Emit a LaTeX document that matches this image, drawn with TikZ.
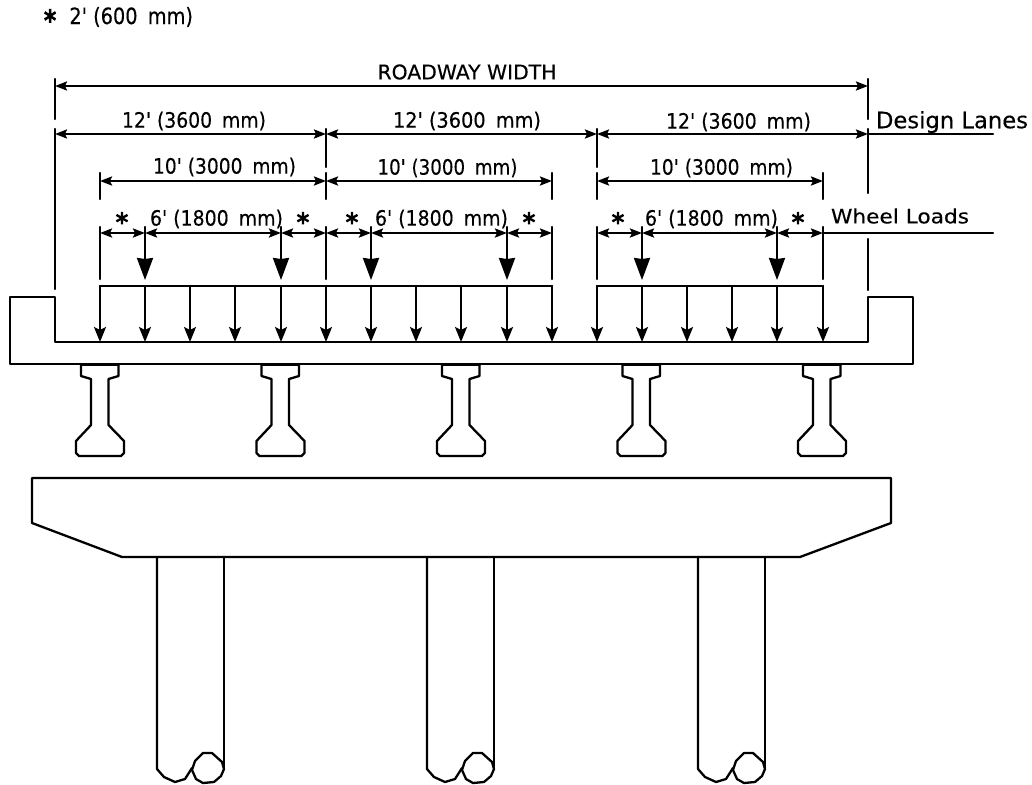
\documentclass[tikz,border=0pt]{standalone}
\usepackage{fontspec}
\usetikzlibrary{arrows.meta}
\newfontfamily\cadfont[FakeBold=0.3]{DejaVu Sans}
\newfontfamily\starfont[FakeBold=4]{DejaVu Sans}
\newcommand{\fitw}[2]{\resizebox{#1pt}{!}{\cadfont\fontsize{19}{21}\selectfont #2}}
\newcommand{\fith}[2]{\resizebox{#1pt}{16pt}{\cadfont\fontsize{19}{21}\selectfont #2}}
\newcommand{\cadstar}{{\starfont\fontsize{25}{25}\selectfont\raisebox{-13pt}[6pt][6pt]{*}}}
\tikzset{
  ln/.style={line width=2.3pt,line cap=round,line join=round,black},
  dimln/.style={ln,{Stealth[length=12pt,width=9pt,inset=2pt]}-{Stealth[length=12pt,width=9pt,inset=2pt]}},
  loadarrow/.style={ln,-{Stealth[length=15pt,width=12pt,inset=3pt]}},
  wheelarrow/.style={ln,-{Stealth[length=22pt,width=16pt,inset=1pt]}},
  lab/.style={inner sep=0pt,outer sep=0pt,anchor=center,black},
  starlab/.style={inner sep=0pt,outer sep=0pt,anchor=center,black},
}
\begin{document}
\begin{tikzpicture}[x=1pt,y=-1pt]
\useasboundingbox (0,0) rectangle (1032,784);
% note at top
\node[lab] (note) at (118.5,17) {\resizebox{149pt}{17pt}{\cadfont\fontsize{19}{21}\selectfont{\starfont\fontsize{24}{24}\selectfont\raisebox{-5.5pt}[8pt][0pt]{*}}\hspace{13pt}2' (600\hspace{4pt} mm)}};
% roadway width
\draw[ln] (55,79) -- (55,119);
\draw[ln] (868,79) -- (868,119);
\draw[dimln] (55,86) -- (868,86);
\node[lab] (rw) at (467,72) {\resizebox{179pt}{15pt}{\cadfont\fontsize{19}{21}\selectfont ROADWAY WIDTH}};
% design lanes
\draw[ln] (55,129) -- (55,289);
\draw[ln] (326,129) -- (326,167);
\draw[ln] (597,129) -- (597,167);
\draw[ln] (868,129) -- (868,193);
\draw[ln] (868,239) -- (868,290);
\draw[dimln] (55,134) -- (326,134);
\draw[dimln] (326,134) -- (597,134);
\draw[dimln] (597,134) -- (868,134);
\draw[ln] (868,134) -- (993,134);
\node[lab] (l1) at (194,121) {\fith{144}{12' (3600\hspace{4pt} mm)}};
\node[lab] (l2) at (467,121) {\fith{148}{12' (3600\hspace{4pt} mm)}};
\node[lab] (l3) at (738.5,122) {\fith{145}{12' (3600\hspace{4pt} mm)}};
\node[lab] (dl) at (952,122) {\fitw{152}{Design Lanes}};
% 10 ft
\foreach \x in {100,326,552,597,823} \draw[ln] (\x,173) -- (\x,199);
\draw[dimln] (100,181) -- (326,181);
\draw[dimln] (326,181) -- (552,181);
\draw[dimln] (597,181) -- (823,181);
\node[lab] (t1) at (224.5,167) {\fith{143}{10' (3000\hspace{4pt} mm)}};
\node[lab] (t2) at (447.5,168) {\fith{140}{10' (3000\hspace{4pt} mm)}};
\node[lab] (t3) at (721.5,168) {\fith{143}{10' (3000\hspace{4pt} mm)}};
% wheel loads
\foreach \x in {100,326,552,597,823} \draw[ln] (\x,227) -- (\x,279);
\foreach \a/\b/\c/\d in {100/145/281/326,326/371/507/552,597/642/777/823}{
  \draw[dimln] (\a,233) -- (\b,233);
  \draw[dimln] (\b,233) -- (\c,233);
  \draw[dimln] (\c,233) -- (\d,233);
  \draw[ln] (\b,227) -- (\b,240);
  \draw[ln] (\c,227) -- (\c,240);
  \draw[wheelarrow] (\b,233) -- (\b,280);
  \draw[wheelarrow] (\c,233) -- (\c,280);
}
\draw[ln] (823,233) -- (993,233);
\node[lab] (w1) at (216.5,219) {\fith{133}{6' (1800\hspace{4pt} mm)}};
\node[lab] (w2) at (441.5,219) {\fith{133}{6' (1800\hspace{4pt} mm)}};
\node[lab] (w3) at (711.5,219) {\fith{133}{6' (1800\hspace{4pt} mm)}};
\node[lab] (wl) at (900,216) {\resizebox{138pt}{15pt}{\cadfont\fontsize{19}{21}\selectfont Wheel Loads}};
\foreach \x/\n in {122/a,303/b,352/c,529/d,618/e,798/f}
  \node[starlab] (star\n) at (\x,218) {\cadstar};
% uniform load
\draw[ln] (100,286) -- (552,286);
\draw[ln] (597,286) -- (823,286);
\foreach \x in {100,145,190,235,281,326,371,416,461,507,552,597,642,687,732,777,823}
  \draw[loadarrow] (\x,286) -- (\x,342);
% deck
\draw[ln] (55,297) -- (10,297) -- (10,364) -- (913,364) -- (913,297) -- (868,297) -- (868,342) -- (55,342) -- cycle;
% girders
\foreach \c in {100,280.5,461,641.5,822}{
  \begin{scope}[xshift=\c pt]
  \draw[ln] (-19,364) -- (-19,376) -- (-9,379) -- (-9,425) -- (-24,441) -- (-24,453) -- (-21,456)
    -- (21,456) -- (24,453) -- (24,441) -- (8.5,425) -- (8.5,379) -- (18.5,376) -- (18.5,364);
  \draw[ln] (-19,365) -- (18.5,365);
  \end{scope}
}
% pier cap
\draw[ln] (32,478) -- (891,478) -- (891,523) -- (800,557) -- (122,557) -- (32,523) -- cycle;
% columns
\foreach \c in {157,427,698}{
  \begin{scope}[xshift=\c pt]
  \draw[ln] (0,557) -- (0,769) -- (7,777) -- (18,782) -- (28,779) -- (35,768);
  \draw[ln] (67,557) -- (67,768);
  \draw[ln] (46,753) -- (55,753) -- (65,762) -- (67,769) -- (64,776) -- (57,782) -- (46,783) -- (39,779) -- (35,770) -- (38,761) -- cycle;
  \end{scope}
}
\end{tikzpicture}
\end{document}
